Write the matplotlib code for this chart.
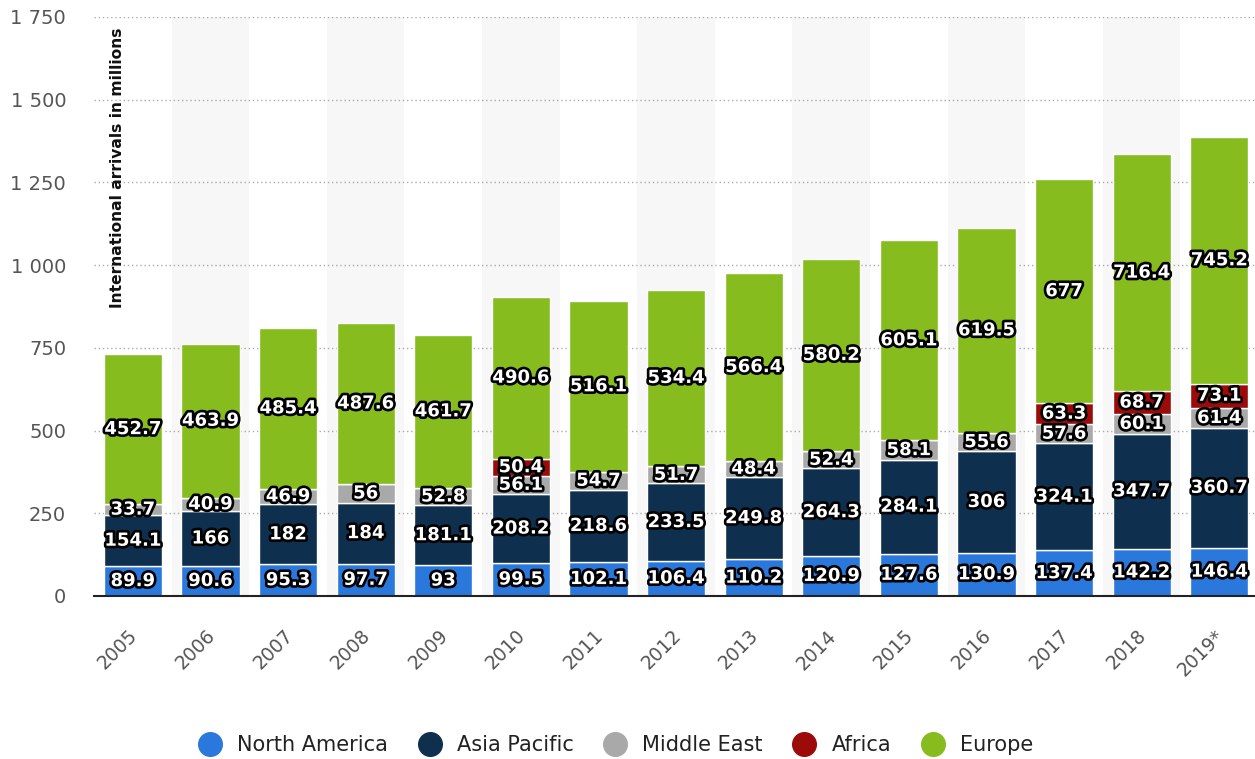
import numpy as np
import matplotlib
matplotlib.use("Agg")
import matplotlib.pyplot as plt
import matplotlib.patheffects as pe
import matplotlib.transforms as mtransforms
from matplotlib.lines import Line2D

years = ["2005", "2006", "2007", "2008", "2009", "2010", "2011", "2012",
         "2013", "2014", "2015", "2016", "2017", "2018", "2019*"]
north_america = [89.9, 90.6, 95.3, 97.7, 93, 99.5, 102.1, 106.4, 110.2,
                 120.9, 127.6, 130.9, 137.4, 142.2, 146.4]
asia_pacific = [154.1, 166, 182, 184, 181.1, 208.2, 218.6, 233.5, 249.8,
                264.3, 284.1, 306, 324.1, 347.7, 360.7]
middle_east = [33.7, 40.9, 46.9, 56, 52.8, 56.1, 54.7, 51.7, 48.4, 52.4,
               58.1, 55.6, 57.6, 60.1, 61.4]
africa = [0, 0, 0, 0, 0, 50.4, 0, 0, 0, 0, 0, 0, 63.3, 68.7, 73.1]
europe = [452.7, 463.9, 485.4, 487.6, 461.7, 490.6, 516.1, 534.4, 566.4,
          580.2, 605.1, 619.5, 677, 716.4, 745.2]

series = [("North America", north_america, "#2a78dc"),
          ("Asia Pacific", asia_pacific, "#0e2f4e"),
          ("Middle East", middle_east, "#a9a9a9"),
          ("Africa", africa, "#9c0a0a"),
          ("Europe", europe, "#86bc1e")]

fig = plt.figure(figsize=(12.55, 7.59), dpi=100)
ax = fig.add_axes([94 / 1255, 0.2148, 1164 / 1255, 0.763])

x = np.arange(len(years))

# alternating column shading
for i in x:
    if i % 2 == 1:
        ax.axvspan(i - 0.5, i + 0.5, color="#f7f7f7", zorder=0, lw=0)

ax.set_axisbelow(True)
ax.yaxis.grid(True, linestyle=(0, (1, 2)), color="#aaaaaa", linewidth=1)

stroke = [pe.withStroke(linewidth=3.8, foreground="black")]
bottom = np.zeros(len(years))
for name, vals, col in series:
    vals = np.array(vals, dtype=float)
    ax.bar(x, vals, 0.75, bottom=bottom, color=col, edgecolor="white",
           linewidth=1, zorder=2)
    for xi, b, v in zip(x, bottom, vals):
        if v > 0:
            ax.text(xi, b + v / 2, f"{v:g}", ha="center", va="center",
                    color="white", fontsize=13, fontweight="bold",
                    path_effects=stroke, zorder=3)
    bottom += vals

ax.set_xlim(-0.5, len(years) - 0.5)
ax.set_ylim(0, 1750)
yt = np.arange(0, 1751, 250)
ax.set_yticks(yt)
ax.set_yticklabels([f"{v:,}".replace(",", " ") for v in yt])
ax.set_xticks(x)
ax.set_xticklabels([])

# year labels, rotated, hanging just below the bar centre
offs = mtransforms.ScaledTranslation(2 / 100, -37 / 100, fig.dpi_scale_trans)
for xi, yr in zip(x, years):
    ax.text(xi, 0, yr, transform=ax.get_xaxis_transform() + offs,
            rotation=45, ha="right", va="center", rotation_mode="anchor",
            fontsize=13.5, color="#555555", clip_on=False)

ax.tick_params(axis="y", length=0, pad=20, labelsize=14, labelcolor="#555555")
ax.tick_params(axis="x", length=0)
for s in ["top", "right", "left"]:
    ax.spines[s].set_visible(False)
ax.spines["bottom"].set_color("#222222")
ax.spines["bottom"].set_linewidth(1.5)

ax.text(-0.2, 1718, "International arrivals in millions", rotation=90,
        ha="center", va="top", fontsize=11.2, fontweight="bold",
        color="#111111", zorder=4)

handles = [Line2D([], [], marker="o", linestyle="", markersize=17,
                  markerfacecolor=col, markeredgecolor=col)
           for _, _, col in series]
fig.legend(handles, [n for n, _, _ in series], loc="center", ncol=5,
           bbox_to_anchor=(0.487, 0.018), frameon=False, fontsize=15,
           handletextpad=0.3, columnspacing=1.0, labelcolor="#222222")

fig.savefig("out.png", dpi=100)
